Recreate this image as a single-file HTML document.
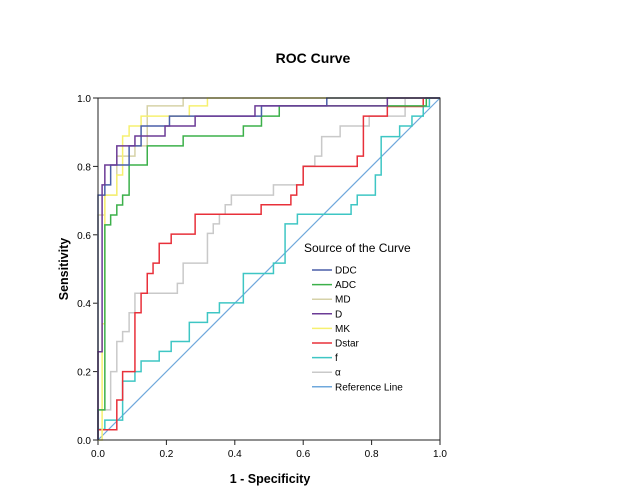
<!DOCTYPE html>
<html><head><meta charset="utf-8"><style>
html,body{margin:0;padding:0;background:#fff;}
svg{display:block;font-family:"Liberation Sans",Arial,sans-serif;}
</style></head><body>
<svg id="chart" width="629" height="504" viewBox="0 0 629 504">
<text x="313" y="63" text-anchor="middle" font-size="14" font-weight="bold">ROC Curve</text>
<text x="0" y="0" transform="translate(68,269) rotate(-90)" text-anchor="middle" font-size="12.5" font-weight="bold">Sensitivity</text>
<text x="270" y="483" text-anchor="middle" font-size="12.5" font-weight="bold">1 - Specificity</text>
<g id="axes"></g>
<g id="series"></g>
<rect x="98" y="98" width="342" height="342" fill="none" stroke="#222" stroke-width="1"/>
<g id="legend">
<text x="304" y="252" font-size="12">Source of the Curve</text>
</g>
</svg>
<script>
const ticks = [0, 0.2, 0.4, 0.6, 0.8, 1.0];
const tickLabels = ["0.0", "0.2", "0.4", "0.6", "0.8", "1.0"];
const seriesNames = ["DDC", "ADC", "MD", "D", "MK", "Dstar", "f", "α"];
const ddcFpr = [0, 0.02, 0.037, 0.091, 0.126, 0.209, 0.478, 0.669, 1];
const ddcTpr = [0.716, 0.746, 0.804, 0.860, 0.918, 0.947, 0.977, 1, 1];
const adcFpr = [0, 0.02, 0.037, 0.055, 0.072, 0.091, 0.144, 0.249, 0.425, 0.478, 0.530, 0.96, 1];
const adcTpr = [0.088, 0.629, 0.658, 0.687, 0.716, 0.804, 0.860, 0.889, 0.918, 0.947, 0.977, 1, 1];
const mdFpr = [0, 0, 0.02, 0.055, 0.108, 0.144, 0.249, 1];
const mdTpr = [0.088, 0.658, 0.716, 0.83, 0.860, 0.977, 1, 1];
const dFpr = [0, 0.012, 0.020, 0.055, 0.108, 0.196, 0.284, 0.459, 0.846, 1];
const dTpr = [0.258, 0.746, 0.804, 0.860, 0.889, 0.918, 0.947, 0.977, 1, 1];
const mkFpr = [0, 0.012, 0.02, 0.055, 0.072, 0.091, 0.126, 0.267, 0.320, 1];
const mkTpr = [0, 0.34, 0.716, 0.775, 0.889, 0.918, 0.947, 0.977, 1, 1];
const dstarFpr = [0, 0.055, 0.072, 0.108, 0.126, 0.144, 0.161, 0.179, 0.214, 0.284, 0.477, 0.564, 0.581, 0.6, 0.758, 0.776, 0.846, 0.951, 1];
const dstarTpr = [0.03, 0.117, 0.2, 0.372, 0.429, 0.487, 0.517, 0.575, 0.602, 0.66, 0.688, 0.716, 0.746, 0.8, 0.83, 0.947, 0.975, 1, 1];
const fFpr = [0, 0.020, 0.072, 0.108, 0.126, 0.179, 0.214, 0.267, 0.320, 0.355, 0.425, 0.513, 0.547, 0.583, 0.740, 0.758, 0.811, 0.828, 0.882, 0.918, 0.951, 0.969, 1];
const fTpr = [0.031, 0.058, 0.172, 0.2, 0.231, 0.259, 0.288, 0.344, 0.372, 0.401, 0.487, 0.517, 0.632, 0.660, 0.688, 0.716, 0.775, 0.887, 0.918, 0.947, 0.975, 1, 1];
const alphaFpr = [0, 0.037, 0.055, 0.072, 0.091, 0.108, 0.232, 0.249, 0.320, 0.337, 0.355, 0.372, 0.390, 0.513, 0.6, 0.634, 0.654, 0.708, 0.793, 0.898, 1];
const alphaTpr = [0.088, 0.2, 0.288, 0.317, 0.372, 0.429, 0.458, 0.517, 0.604, 0.632, 0.660, 0.688, 0.716, 0.746, 0.801, 0.83, 0.887, 0.918, 0.947, 1, 1];

const NS = "http://www.w3.org/2000/svg";
const X0 = 98, X1 = 440, Y0 = 440, Y1 = 98;
const xs = v => X0 + v * (X1 - X0);
const ys = v => Y0 - v * (Y0 - Y1);
const axes = document.getElementById('axes');
const seriesG = document.getElementById('series');
const legend = document.getElementById('legend');
function mk(tag, attrs, parent) {
  const e = document.createElementNS(NS, tag);
  for (const k in attrs) e.setAttribute(k, attrs[k]);
  parent.appendChild(e);
  return e;
}
ticks.forEach((t, i) => {
  const xt = mk('line', {x1: xs(t), x2: xs(t), y1: Y0, y2: Y0 + 5, stroke: '#222'}, axes);
  
  
  const xl = mk('text', {x: xs(t), y: Y0 + 17, 'text-anchor': 'middle', 'font-size': '10'}, axes);
  xl.textContent = tickLabels[i];
  
  
  const yt = mk('line', {x1: X0 - 5, x2: X0, y1: ys(t), y2: ys(t), stroke: '#222'}, axes);
  
  
  const yl = mk('text', {x: X0 - 7, y: ys(t) + 4, 'text-anchor': 'end', 'font-size': '10'}, axes);
  yl.textContent = tickLabels[i];
  
  
});
const colors = ['#4a5fa8', '#3cb04a', '#d6d2a8', '#6b3b96', '#f6f070', '#e8303a', '#3ec6c4', '#c9c9c9'];
const data = [[ddcFpr, ddcTpr], [adcFpr, adcTpr], [mdFpr, mdTpr], [dFpr, dTpr], [mkFpr, mkTpr], [dstarFpr, dstarTpr], [fFpr, fTpr], [alphaFpr, alphaTpr]];
// reference line
const ref = mk('line', {x1: xs(0), y1: ys(0), x2: xs(1), y2: ys(1), stroke: '#6fa8dc', 'stroke-width': '1.2'}, seriesG);


const drawOrder = [7, 6, 5, 2, 4, 1, 0, 3];
drawOrder.forEach(i => {
  const fx = data[i][0], fy = data[i][1];
  let d = 'M' + xs(0) + ',' + ys(0);
  let py = 0;
  for (let k = 0; k < fx.length; k++) {
    d += ' L' + xs(fx[k]) + ',' + ys(py) + ' L' + xs(fx[k]) + ',' + ys(fy[k]);
    py = fy[k];
  }
  const p = mk('path', {d: d, fill: 'none', stroke: colors[i], 'stroke-width': '1.5'}, seriesG);
  
  
});
const legNames = seriesNames.concat(['Reference Line']);
const legColors = colors.concat(['#6fa8dc']);
legNames.forEach((n, i) => {
  const y = 270 + i * 14.6;
  const l = mk('line', {x1: 312, x2: 332, y1: y, y2: y, stroke: legColors[i], 'stroke-width': '1.5'}, legend);
  
  
  const t = mk('text', {x: 335, y: y + 3.5, 'font-size': '10'}, legend);
  t.textContent = n;
  
  
});
</script>
</body></html>
